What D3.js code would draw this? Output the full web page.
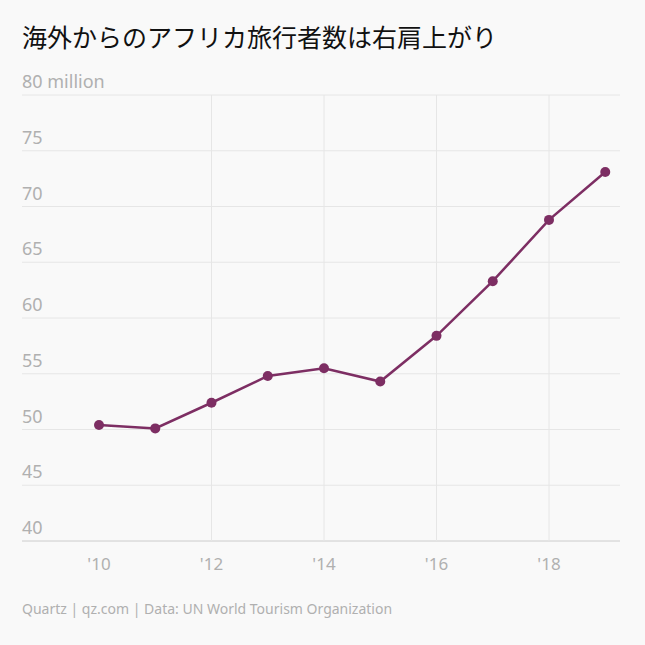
<!DOCTYPE html>
<html><head><meta charset="utf-8">
<script src="https://cdn.jsdelivr.net/npm/d3@7"></script>
<style>body{margin:0;background:#f9f9f9}</style>
</head><body><svg id="c" width="645" height="645"></svg>
<script>
const years = [2010,2011,2012,2013,2014,2015,2016,2017,2018,2019];
const visitors = [50.4,50.1,52.4,54.8,55.5,54.3,58.4,63.3,68.8,73.1];
const yTicks = [40,45,50,55,60,65,70,75,80];
const xTicks = [2010,2012,2014,2016,2018];
const title = "海外からのアフリカ旅行者数は右肩上がり";
const source = "Quartz | qz.com | Data: UN World Tourism Organization";

const svg = d3.select("#c");
svg.append("rect").attr("width",645).attr("height",645).attr("fill","#f9f9f9");
const x = d3.scaleLinear().domain([2010,2018]).range([99,549]);
const y = d3.scaleLinear().domain([40,80]).range([541,95]);
const font = "'Noto Sans CJK JP','Noto Sans',sans-serif";

svg.append("text").attr("x",22).attr("y",47).attr("font-size",25).attr("fill","#111")
  .attr("font-family",font).text(title);

const g = svg.append("g");
yTicks.forEach(t=>{
  g.append("line").attr("x1",22).attr("x2",620).attr("y1",y(t)).attr("y2",y(t))
    .attr("stroke",t===40?"#ccc":"#e6e6e6");
  g.append("text").attr("x",22).attr("y",y(t)-7).attr("font-size",18).attr("fill","#b0b0b0")
    .attr("font-family","'Noto Sans',sans-serif").text(t===80?"80 million":t);
});
xTicks.forEach(t=>{
  if (t===2010) return;
  g.append("line").attr("x1",x(t)).attr("x2",x(t)).attr("y1",y(80)).attr("y2",y(40))
    .attr("stroke","#e6e6e6");
});
xTicks.forEach(t=>{
  g.append("text").attr("x",x(t)).attr("y",570).attr("text-anchor","middle").attr("font-size",17)
    .attr("fill","#b0b0b0").attr("font-family","'Noto Sans',sans-serif").text("'"+String(t).slice(2));
});
const line = d3.line().x((d,i)=>x(years[i])).y(d=>y(d));
svg.append("path").attr("d",line(visitors)).attr("fill","none").attr("stroke","#7d2e63").attr("stroke-width",2.5);
svg.selectAll("circle.p").data(visitors).enter().append("circle")
  .attr("cx",(d,i)=>x(years[i])).attr("cy",d=>y(d)).attr("r",5).attr("fill","#7d2e63");
svg.append("text").attr("x",22).attr("y",614).attr("font-size",14).attr("fill","#b0b0b0")
  .attr("font-family","'Noto Sans',sans-serif").text(source);
</script></body></html>
